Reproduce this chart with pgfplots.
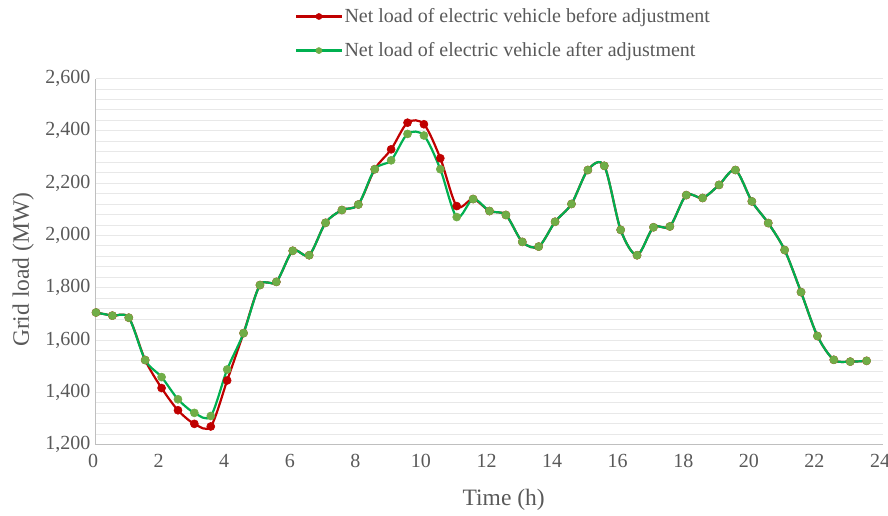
\documentclass[border=0pt]{standalone}
\usepackage{fontspec}
\setmainfont{Liberation Serif}
\usepackage{pgfplots}
\pgfplotsset{compat=1.18}
\definecolor{txt}{HTML}{595959}
\definecolor{axl}{HTML}{BFBFBF}
\definecolor{grd}{HTML}{E8E8E8}
\definecolor{redl}{HTML}{C00000}
\definecolor{grnl}{HTML}{00B050}
\definecolor{grnm}{HTML}{70AD47}
\begin{document}
\begin{tikzpicture}
\begin{axis}[
  scale only axis,
  width=787pt, height=366pt,
  at={(0pt,0pt)}, anchor=south west,
  xmin=0, xmax=24, ymin=1200, ymax=2600,
  xtick={0,2,...,24},
  ytick={1200,1400,...,2600},
  minor y tick num=4,
  ymajorgrids, yminorgrids,
  major grid style={grd, line width=0.8pt},
  minor grid style={grd, line width=0.8pt},
  axis x line=bottom, axis y line=left,
  axis line style={axl, line width=1pt, -},
  major tick length=0pt, minor tick length=0pt,
  tick style={draw=none},
  ticklabel style={font=\fontsize{20}{24}\selectfont, text=txt},
  /pgf/number format/assume math mode=true,
  /pgf/number format/1000 sep={,},
  xticklabel style={yshift=-6pt, xshift=-3pt},
  yticklabel style={xshift=-2pt},
  xlabel={Time (h)}, ylabel={Grid load (MW)},
  label style={font=\fontsize{23.5}{28}\selectfont, text=txt},
  xlabel style={at={(axis description cs:0.518,-0.152)}, anchor=center},
  ylabel style={at={(axis description cs:-0.0925,0.477)}, anchor=center, rotate=0},
  legend style={at={(axis description cs:0.253,1.194)}, anchor=north west,
    draw=none, fill=none, inner sep=0pt, row sep=16.5pt,
    font=\fontsize{20}{24}\selectfont, text=txt,
    nodes={inner xsep=2pt, inner ysep=1pt}},
  legend cell align=left,
  legend image code/.code={\draw[mark repeat=2,mark phase=2, mark size=3pt] plot coordinates {(0pt,0pt) (22.5pt,0pt) (45pt,0pt)};},
  clip=false,
]
\addplot[redl, line width=2.2pt, smooth, tension=0.5, mark=*, mark size=4pt, mark options={fill=redl, draw=redl, line width=0.6pt}] coordinates {
(0,1705) (0.5,1693) (1,1685) (1.5,1523) (2,1416) (2.5,1331) (3,1279) (3.5,1269)
(4,1445) (4.5,1626) (5,1810) (5.5,1822) (6,1941) (6.5,1924) (7,2048) (7.5,2097)
(8,2118) (8.5,2253) (9,2329) (9.5,2431) (10,2425) (10.5,2295) (11,2112) (11.5,2139)
(12,2093) (12.5,2078) (13,1975) (13.5,1957) (14,2052) (14.5,2120) (15,2250) (15.5,2266)
(16,2021) (16.5,1924) (17,2031) (17.5,2034) (18,2154) (18.5,2143) (19,2193) (19.5,2250)
(20,2130) (20.5,2047) (21,1944) (21.5,1783) (22,1615) (22.5,1524) (23,1517) (23.5,1520)
};
\addlegendentry{Net load of electric vehicle before adjustment}
\addplot[grnl, line width=2.2pt, smooth, tension=0.5, mark=*, mark size=4pt, mark options={fill=grnm, draw=grnm, line width=0.6pt}] coordinates {
(0,1705) (0.5,1693) (1,1685) (1.5,1523) (2,1458) (2.5,1373) (3,1321) (3.5,1309)
(4,1487) (4.5,1626) (5,1810) (5.5,1822) (6,1941) (6.5,1924) (7,2048) (7.5,2097)
(8,2118) (8.5,2253) (9,2287) (9.5,2388) (10,2382) (10.5,2253) (11,2070) (11.5,2139)
(12,2093) (12.5,2078) (13,1975) (13.5,1957) (14,2052) (14.5,2120) (15,2250) (15.5,2266)
(16,2021) (16.5,1924) (17,2031) (17.5,2034) (18,2154) (18.5,2143) (19,2193) (19.5,2250)
(20,2130) (20.5,2047) (21,1944) (21.5,1783) (22,1615) (22.5,1524) (23,1517) (23.5,1520)
};
\addlegendentry{Net load of electric vehicle after adjustment}
\end{axis}
\pgfresetboundingbox
\path[use as bounding box] (-96pt,-70.5pt) rectangle (792pt,444.5pt);
\end{tikzpicture}
\end{document}
